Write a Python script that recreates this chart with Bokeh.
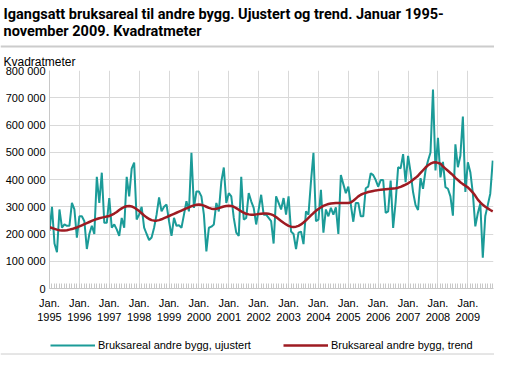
from bokeh.plotting import figure
from bokeh.layouts import column
from bokeh.models import (ColumnDataSource, Range1d, FixedTicker, Label, Legend,
                          LegendItem, Span, Title)
from bokeh.embed import file_html
from bokeh.resources import INLINE

# ---- data (thousand square metres), monthly Jan 1995 - Nov 2009 ----
ujustert_1995 = [211, 300, 165, 133, 290, 223, 235, 230, 230, 314, 290, 187]
ujustert_1996 = [265, 265, 247, 145, 200, 230, 200, 410, 314, 425, 241, 241]
ujustert_1997 = [332, 223, 235, 217, 193, 259, 223, 410, 338, 440, 462, 253]
ujustert_1998 = [271, 300, 223, 200, 178, 187, 223, 271, 334, 283, 300, 308]
ujustert_1999 = [247, 193, 259, 230, 232, 223, 271, 320, 283, 498, 296, 356]
ujustert_2000 = [356, 338, 271, 136, 223, 227, 235, 314, 283, 392, 444, 314]
ujustert_2001 = [350, 338, 259, 205, 193, 410, 253, 259, 350, 320, 296, 235]
ujustert_2002 = [290, 344, 271, 271, 259, 247, 165, 338, 314, 290, 332, 271]
ujustert_2003 = [338, 209, 200, 145, 205, 209, 163, 283, 271, 392, 498, 247]
ujustert_2004 = [253, 362, 205, 290, 265, 296, 271, 298, 200, 416, 383, 350]
ujustert_2005 = [374, 308, 245, 314, 314, 265, 265, 368, 374, 423, 416, 398]
ujustert_2006 = [374, 398, 398, 277, 283, 396, 222, 318, 445, 441, 493, 390]
ujustert_2007 = [487, 427, 354, 306, 288, 405, 366, 433, 469, 499, 730, 433]
ujustert_2008 = [553, 408, 465, 372, 366, 338, 267, 529, 445, 487, 631, 354]
ujustert_2009 = [463, 427, 350, 228, 276, 312, 113, 266, 306, 348, 469]

trend_1995 = [225, 222, 219, 216, 214, 213, 213, 214, 216, 218, 221, 224]
trend_1996 = [228, 232, 236, 240, 244, 248, 252, 255, 258, 260, 262, 264]
trend_1997 = [266, 270, 275, 281, 288, 294, 299, 302, 303, 301, 297, 291]
trend_1998 = [284, 276, 268, 261, 255, 251, 249, 249, 251, 254, 258, 262]
trend_1999 = [266, 270, 274, 278, 282, 286, 290, 294, 298, 302, 305, 307]
trend_2000 = [308, 307, 304, 300, 296, 293, 292, 293, 295, 298, 301, 303]
trend_2001 = [304, 303, 300, 295, 289, 283, 278, 274, 272, 271, 271, 272]
trend_2002 = [273, 274, 275, 275, 274, 272, 268, 262, 255, 248, 241, 235]
trend_2003 = [230, 227, 226, 227, 230, 235, 242, 250, 259, 268, 277, 285]
trend_2004 = [292, 298, 303, 307, 310, 312, 313, 314, 314, 314, 314, 314]
trend_2005 = [314, 316, 322, 330, 338, 344, 348, 351, 354, 356, 358, 360]
trend_2006 = [361, 362, 363, 364, 365, 366, 367, 368, 370, 373, 377, 381]
trend_2007 = [386, 392, 399, 406, 414, 424, 434, 444, 452, 458, 462, 463]
trend_2008 = [461, 458, 448, 440, 432, 424, 416, 406, 398, 390, 383, 377]
trend_2009 = [371, 362, 352, 340, 326, 316, 307, 300, 294, 288, 283]

years = ["1995", "1996", "1997", "1998", "1999", "2000", "2001", "2002",
         "2003", "2004", "2005", "2006", "2007", "2008", "2009"]
y_ticks = [0, 100000, 200000, 300000, 400000, 500000, 600000, 700000, 800000]
y_tick_labels = ["0", "100 000", "200 000", "300 000", "400 000", "500 000",
                 "600 000", "700 000", "800 000"]

series_names = ["Bruksareal andre bygg, ujustert", "Bruksareal andre bygg, trend"]
title_lines = ["Igangsatt bruksareal til andre bygg. Ujustert og trend. Januar 1995-",
               "november 2009. Kvadratmeter"]
unit_label = "Kvadratmeter"

ujustert = (ujustert_1995 + ujustert_1996 + ujustert_1997 + ujustert_1998 +
            ujustert_1999 + ujustert_2000 + ujustert_2001 + ujustert_2002 +
            ujustert_2003 + ujustert_2004 + ujustert_2005 + ujustert_2006 +
            ujustert_2007 + ujustert_2008 + ujustert_2009)
trend = (trend_1995 + trend_1996 + trend_1997 + trend_1998 + trend_1999 +
         trend_2000 + trend_2001 + trend_2002 + trend_2003 + trend_2004 +
         trend_2005 + trend_2006 + trend_2007 + trend_2008 + trend_2009)

month_index = list(range(len(ujustert)))
source = ColumnDataSource(dict(
    x=month_index,
    u=[v * 1000 for v in ujustert],
    t=[v * 1000 for v in trend],
))

FONT = "Liberation Sans"
TITLE_FONT = "Roboto"
TEAL = "#1b9b98"
RED = "#9e1b22"
GRID = "#d9d9d9"
SEP = "#cccccc"
W = 494


def no_align(f):
    if "frame_align" in f.properties():
        f.frame_align = False
    return f


def blank_fig(h):
    f = figure(width=W, height=h, output_backend="svg", toolbar_location=None,
               title=None, x_range=Range1d(0, W), y_range=Range1d(h, 0),
               x_axis_type=None, y_axis_type=None, min_border=0)
    f.outline_line_color = None
    f.background_fill_color = "white"
    f.border_fill_color = "white"
    return no_align(f)


# ---- header: title and separator ----
TOP_H = 51
top = blank_fig(TOP_H)
top.add_layout(Label(x=3, y=14, text=title_lines[0], text_font=TITLE_FONT,
                     text_font_size="14.5px", text_font_style="bold",
                     text_color="#000000", text_baseline="alphabetic"))
top.add_layout(Label(x=3, y=30.5, text=title_lines[1], text_font=TITLE_FONT,
                     text_font_size="14.5px", text_font_style="bold",
                     text_color="#000000", text_baseline="alphabetic"))
top.add_layout(Span(location=46, dimension="width", line_color=SEP,
                    line_width=2))

# ---- main chart ----
p = figure(width=W, height=275, output_backend="svg", toolbar_location=None,
           title=None, x_range=Range1d(0, 178.3), y_range=Range1d(0, 800000),
           min_border_left=49, min_border_right=1, min_border_top=6,
           min_border_bottom=38)
no_align(p)
p.outline_line_color = None
p.background_fill_color = "white"
p.border_fill_color = "white"
p.add_layout(Title(text=unit_label, align="left", offset=-46, standoff=3,
                   text_font=FONT, text_font_size="12px",
                   text_font_style="normal", text_color="#000000"), "above")

r_u = p.line("x", "u", source=source, line_color=TEAL, line_width=2)
r_t = p.line("x", "t", source=source, line_color=RED, line_width=2.5)

major_x = [12 * i for i in range(len(years))]
p.xaxis.ticker = FixedTicker(ticks=major_x, minor_ticks=month_index)
p.xaxis.major_label_overrides = {12 * i: "Jan.\n" + y for i, y in enumerate(years)}
p.xaxis.major_tick_in = 0
p.xaxis.major_tick_out = 0
p.xaxis.minor_tick_in = 5
p.xaxis.minor_tick_out = 0
p.xaxis.minor_tick_line_color = "#c8c8c8"
p.xaxis.axis_line_color = "#c8c8c8"
p.xaxis.major_label_standoff = 8
p.xaxis.major_label_text_font = FONT
p.xaxis.major_label_text_font_size = "11px"
p.xaxis.major_label_text_color = "#000000"

p.yaxis.ticker = FixedTicker(ticks=y_ticks)
p.yaxis.major_label_overrides = {t: l for t, l in zip(y_ticks, y_tick_labels)}
p.yaxis.major_tick_in = 0
p.yaxis.major_tick_out = 0
p.yaxis.minor_tick_line_color = None
p.yaxis.axis_line_color = "#c8c8c8"
p.yaxis.major_label_standoff = 4
p.yaxis.major_label_text_font = FONT
p.yaxis.major_label_text_font_size = "11px"
p.yaxis.major_label_text_color = "#000000"

p.xgrid.ticker = FixedTicker(ticks=major_x)
p.xgrid.grid_line_color = GRID
p.ygrid.grid_line_color = GRID

# ---- footer: legend and bottom rule ----
BOT_H = 29
bottom = blank_fig(BOT_H)
# legend swatches: same series, drawn outside this strip's visible range
leg_u = bottom.line("x", "u", source=source, line_color=TEAL, line_width=2)
leg_t = bottom.line("x", "t", source=source, line_color=RED, line_width=2.5)
legend = Legend(items=[LegendItem(label=series_names[0], renderers=[leg_u]),
                       LegendItem(label=series_names[1], renderers=[leg_t])],
                location=(50, 3), orientation="horizontal",
                glyph_width=45, glyph_height=14, label_height=14,
                label_standoff=3, spacing=32, padding=0, margin=0,
                border_line_color=None, background_fill_alpha=0,
                label_text_font=FONT, label_text_font_size="11px",
                label_text_color="#000000")
bottom.add_layout(legend)
bottom.add_layout(Span(location=27.5, dimension="width", line_color=SEP,
                       line_width=1))

layout = column(top, p, bottom, spacing=0)
open("out.html", "w").write(file_html(layout, INLINE))
